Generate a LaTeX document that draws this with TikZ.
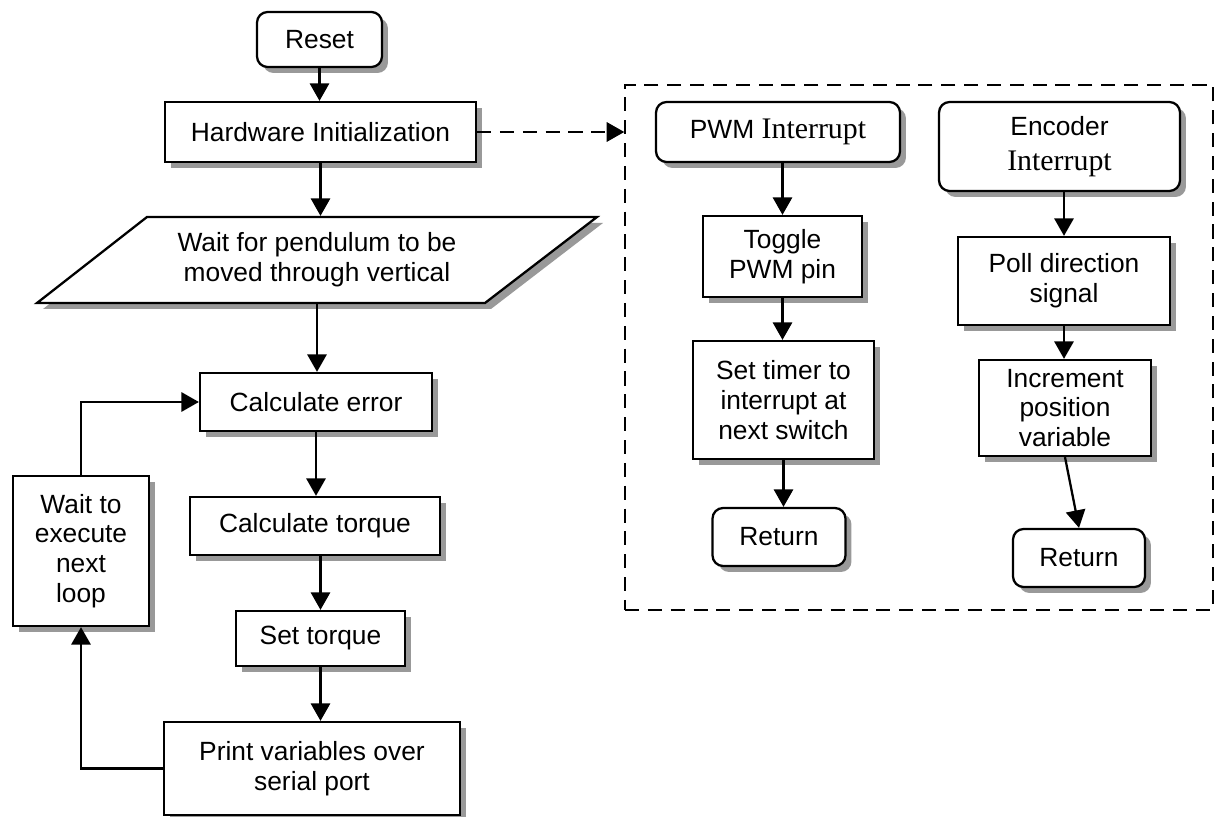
\documentclass[tikz,border=0pt]{standalone}
\usepackage{fontspec}
\setmainfont{Liberation Sans}
\newfontfamily\timesfont{Liberation Serif}
\newcommand{\irqword}{{\timesfont\fontsize{17}{19}\selectfont Interrupt}}
\usetikzlibrary{arrows.meta,shadows}

\begin{document}
\begin{tikzpicture}[x=0.02cm, y=-0.02cm, line width=1.3pt, >={Triangle[length=10pt, width=11pt]},
  every node/.style={font=\fontsize{15}{17}\selectfont, align=center, inner sep=2pt},
  boxshadow/.style={drop shadow={shadow xshift=0.12cm, shadow yshift=-0.12cm, fill=black!40, opacity=1}},
  procbox/.style={draw, fill=white, rectangle, boxshadow},
  termbox/.style={procbox, rounded corners=6pt},
  flow/.style={->},
  link/.style={->, dash pattern=on 8pt off 5pt}]
\useasboundingbox (0,0) rectangle (1218,817);

\node [draw, line width=0.9pt, dash pattern=on 8pt off 5pt, minimum width=11.76cm, minimum height=10.5cm, inner sep=0pt] (intbox) at (919,347.5) {};

\node [termbox, minimum width=2.5cm, minimum height=1.1cm] (reset) at (319.5,39.5) {Reset};
\node [procbox, minimum width=6.22cm, minimum height=1.2cm] (hwinit) at (320.5,132) {Hardware Initialization};
\draw [procbox] (37,303) -- (485,303) -- (597,217) -- (147,217) -- cycle;
\node [minimum width=9cm, minimum height=1.72cm] (pendulum) at (317,260) {Wait for pendulum to be\\moved through vertical};
\node [procbox, minimum width=4.64cm, minimum height=1.16cm] (calcerr) at (316,402) {Calculate error};
\node [procbox, minimum width=5cm, minimum height=1.16cm] (calctorque) at (315,526) {Calculate torque};
\node [procbox, minimum width=3.38cm, minimum height=1.1cm] (settorque) at (320.5,638.5) {Set torque};
\node [procbox, minimum width=5.92cm, minimum height=1.86cm] (print) at (312,768.5) {Print variables over\\serial port};
\node [procbox, minimum width=2.72cm, minimum height=3cm] (waitloop) at (81,551) {Wait to\\execute\\next\\loop};

\node [termbox, minimum width=4.88cm, minimum height=1.2cm] (pwmint) at (778,132) {PWM \irqword};
\node [procbox, minimum width=3.18cm, minimum height=1.62cm] (toggle) at (782.5,256.5) {Toggle\\PWM pin};
\node [procbox, minimum width=3.62cm, minimum height=2.36cm] (settimer) at (783.5,400) {Set timer to\\interrupt at\\next switch};
\node [termbox, minimum width=2.66cm, minimum height=1.16cm] (pwmret) at (779,537) {Return};

\node [termbox, minimum width=4.82cm, minimum height=1.78cm] (encint) at (1059.5,146.5) {Encoder\\[3pt]\irqword};
\node [procbox, minimum width=4.24cm, minimum height=1.76cm] (poll) at (1064,281) {Poll direction\\signal};
\node [procbox, minimum width=3.44cm, minimum height=1.92cm] (incr) at (1065,408) {Increment\\position\\variable};
\node [termbox, minimum width=2.64cm, minimum height=1.16cm] (encret) at (1079,558) {Return};

\draw [flow] (reset.south) -- (reset.south |- hwinit.north);
\draw [flow] (hwinit.south) -- (hwinit.south |- pendulum.north);
\draw [flow] (pendulum.south) -- (pendulum.south |- calcerr.north);
\draw [flow] (calcerr.south) -- (calcerr.south |- calctorque.north);
\draw [flow] (settorque.north |- calctorque.south) -- (settorque.north);
\draw [flow] (settorque.south) -- (settorque.south |- print.north);
\draw [flow] (print.west) -| (waitloop.south);
\draw [flow] (waitloop.north) |- (calcerr.west);
\draw [link] (hwinit.east) -- (hwinit.east -| intbox.west);

\draw [flow] (pwmint.south -| toggle.north) -- (toggle.north);
\draw [flow] (toggle.south) -- (toggle.south |- settimer.north);
\draw [flow] (settimer.south) -- (settimer.south |- pwmret.north);
\draw [flow] (encint.south -| poll.north) -- (poll.north);
\draw [flow] (poll.south) -- (poll.south |- incr.north);
\draw [flow] (incr.south) -- (encret.north);
\end{tikzpicture}
\end{document}
